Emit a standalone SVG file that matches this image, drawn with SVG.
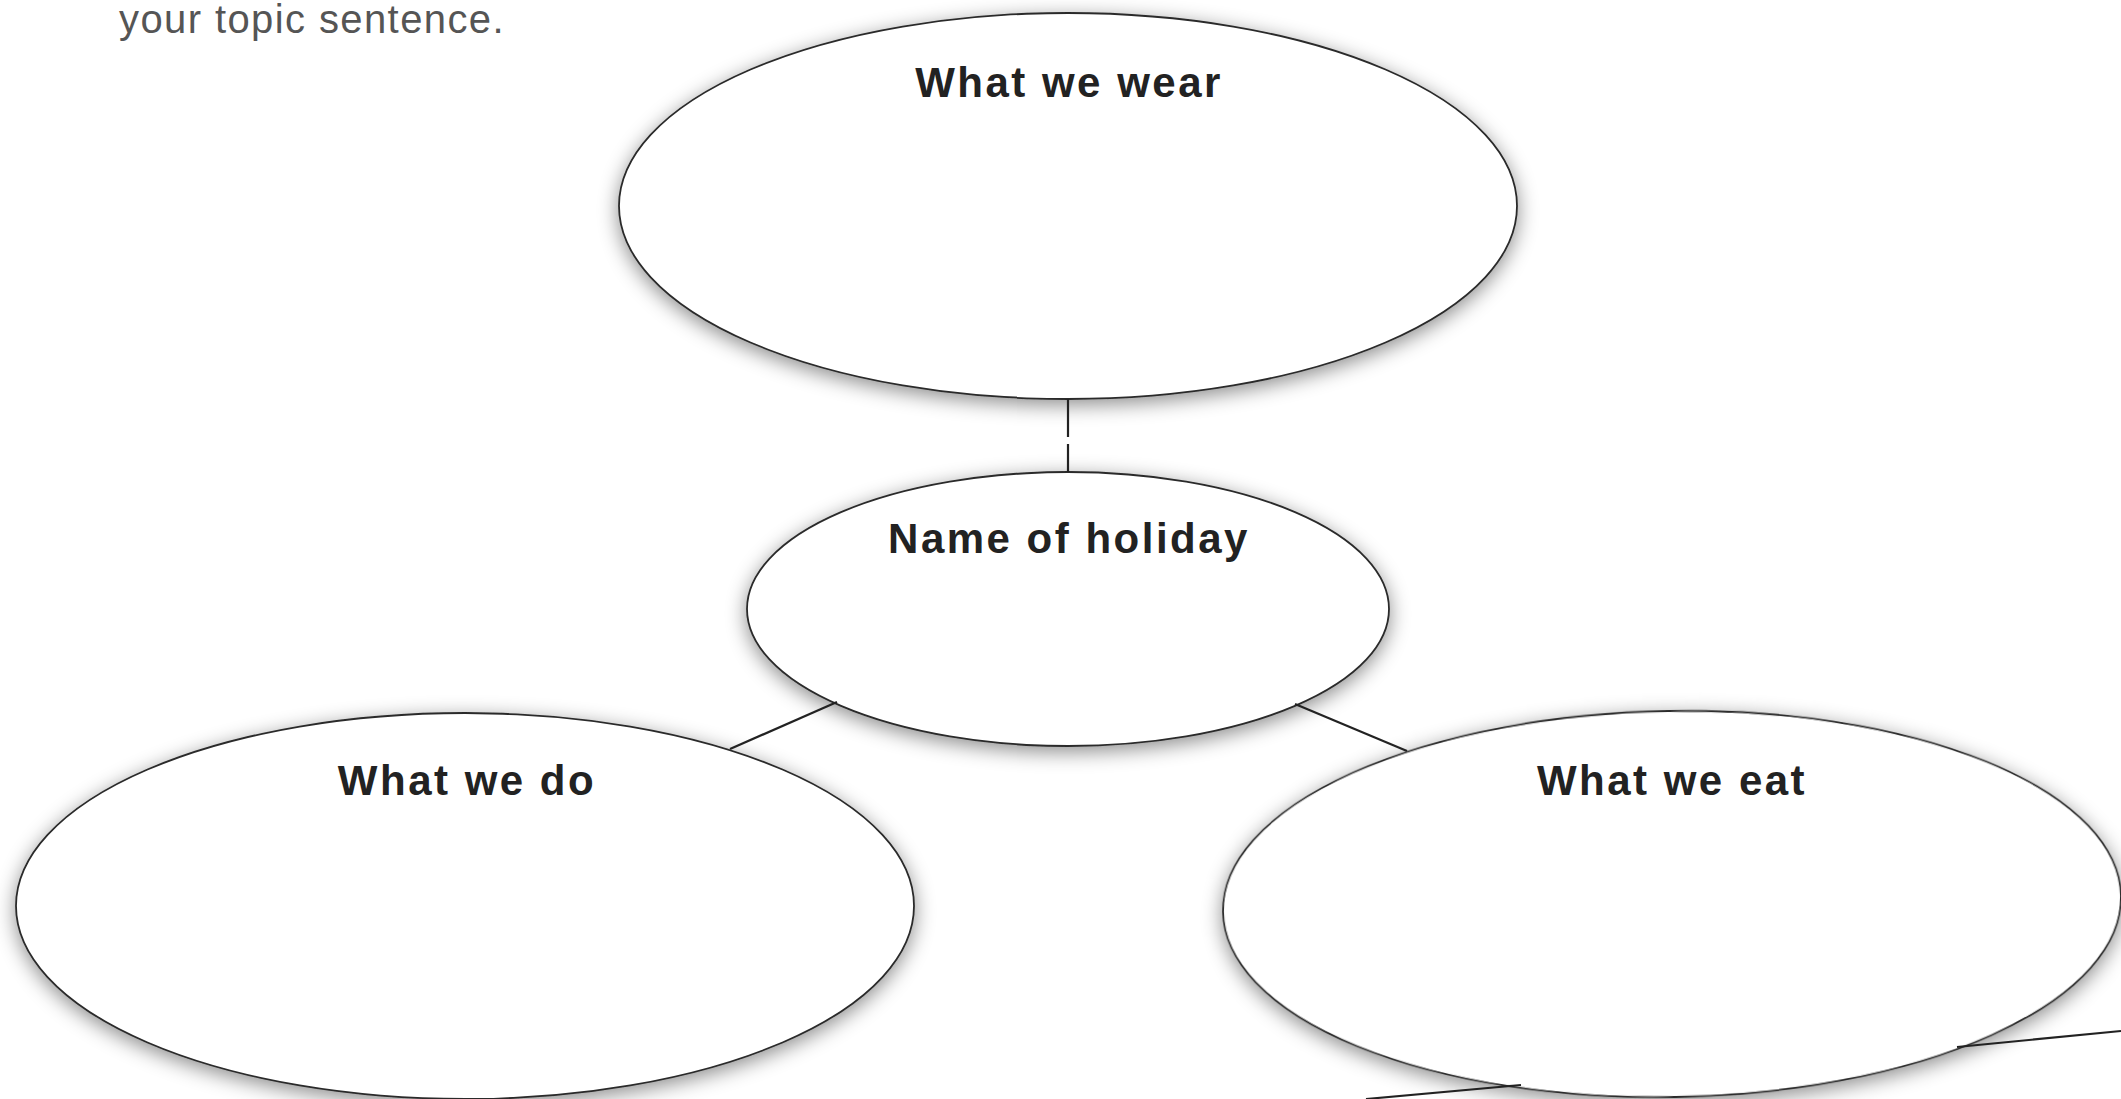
<svg xmlns="http://www.w3.org/2000/svg" width="2121" height="1099" viewBox="0 0 2121 1099">
<defs>
<filter id="sh" x="-10%" y="-15%" width="120%" height="130%">
<feGaussianBlur in="SourceAlpha" stdDeviation="10"/>
<feOffset dx="0" dy="5" result="b"/>
<feFlood flood-color="#000" flood-opacity="0.45"/>
<feComposite in2="b" operator="in" result="s"/>
<feMerge><feMergeNode in="s"/><feMergeNode in="SourceGraphic"/></feMerge>
</filter>
</defs>
<style>
.node ellipse{fill:#fff;stroke:#2a2a2a;stroke-width:1.8;filter:url(#sh)}
.lbl{font-family:"Liberation Sans",Arial,sans-serif;font-weight:bold;font-size:42px;letter-spacing:2.5px;fill:#222;text-anchor:middle}
.con line{stroke:#222;stroke-width:2.2}
.top{font-family:"Liberation Sans",Arial,sans-serif;font-size:40px;letter-spacing:1.4px;fill:#555}
</style>
<rect width="2121" height="1099" fill="#fff"/>
<text class="top" x="119" y="33">your topic sentence.</text>
<g id="node-wear" class="node">
<ellipse cx="1068" cy="206" rx="449" ry="193"/>
<text class="lbl" x="1069" y="97">What we wear</text>
</g>
<g id="node-holiday" class="node">
<ellipse cx="1068" cy="609" rx="321" ry="137"/>
<text class="lbl" x="1069" y="553">Name of holiday</text>
</g>
<g id="node-do" class="node">
<ellipse cx="465" cy="906" rx="449" ry="193"/>
<text class="lbl" x="467" y="795">What we do</text>
</g>
<g id="node-eat" class="node">
<ellipse cx="1672" cy="904" rx="449" ry="193" transform="rotate(-1 1672 904)"/>
<text class="lbl" x="1672" y="795">What we eat</text>
</g>
<g id="connectors" class="con">
<line x1="1068" y1="399" x2="1068" y2="437" stroke-width="3.4"/>
<line x1="1068" y1="444" x2="1068" y2="472" stroke-width="3.4"/>
<line x1="837" y1="702" x2="730" y2="749"/>
<line x1="1295" y1="704" x2="1407" y2="751"/>
<line x1="1957" y1="1047" x2="2121" y2="1031" stroke-width="1.8"/>
<line x1="1521" y1="1085" x2="1366" y2="1099" stroke-width="1.8"/>
</g>
</svg>
